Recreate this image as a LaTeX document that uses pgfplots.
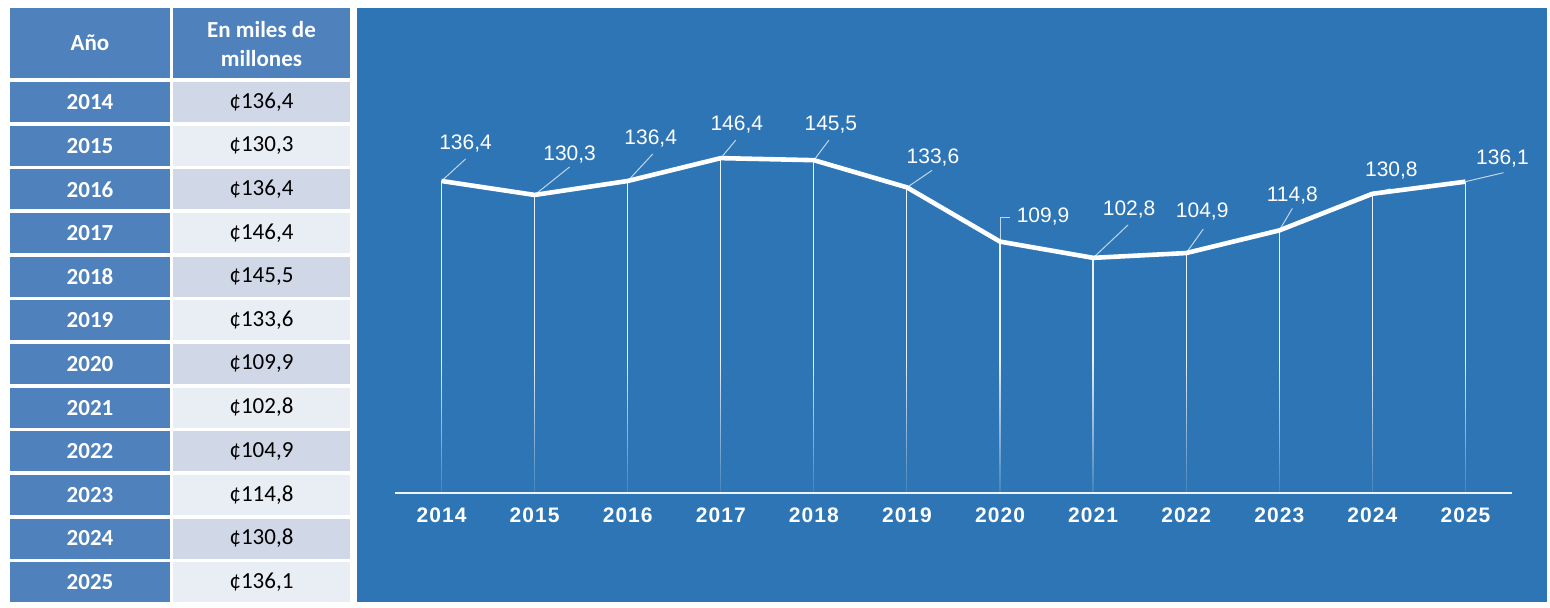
\documentclass[border=0pt]{standalone}
\usepackage{fontspec}
\setmainfont{Liberation Sans}
\newfontfamily\carlito{Carlito}
\newfontfamily\tickfont[LetterSpace=5]{Liberation Sans}
\usepackage{pgfplots}
\pgfplotsset{compat=1.18}
\usepackage{pgfplotstable}
\usetikzlibrary{fadings}
\definecolor{panelblue}{RGB}{46,117,182}
\definecolor{cellblue}{RGB}{79,129,189}
\definecolor{celldark}{RGB}{208,216,232}
\definecolor{celllight}{RGB}{233,237,244}

\pgfdeclareverticalshading{dropshade}{100bp}{color(0bp)=(pgftransparent!90); color(25bp)=(pgftransparent!90); color(45bp)=(pgftransparent!0); color(100bp)=(pgftransparent!0)}
\pgfdeclarefading{dropfade}{\pgfuseshading{dropshade}}

\pgfplotstableread{
x y lab lx ly
0 136.4 136,4 24 37
1 130.3 130,3 35 40
2 136.4 136,4 23 42
3 146.4 146,4 16 34
4 145.5 145,5 17 36
5 133.6 133,6 26 30
6 109.9 109,9 43 25
7 102.8 102,8 36 48
8 104.9 104,9 16 42
9 114.8 114,8 13 35
10 130.8 130,8 19 23
11 136.1 136,1 37 23
}\maindata

\pgfplotstableread{
x y u v
0 136.4 0.258 9.62
1 130.3 0.376 12.24
2 136.4 0.269 11.80
3 146.4 0.161 7.87
4 145.5 0.161 8.74
5 133.6 0.269 7.43
6 109.9 0 10.49
6 120.39 0.107 0
7 102.8 0.376 14.42
8 104.9 0.183 10.49
9 114.8 0.140 9.62
10 130.8 0.193 2.19
11 136.1 0.408 3.93
}\leaderdata

\begin{document}
\begin{tikzpicture}
\begin{scope}[x=0.5pt,y=-0.5pt]
\fill[white] (0,0) rectangle (1550,607);
\fill[panelblue] (357,8) rectangle (1547,602);
\fill[cellblue] (10,8) rectangle (170,78);
\fill[cellblue] (173,8) rectangle (350,78);
\node[text=white,font=\carlito\bfseries\fontsize{11.5}{14.5}\selectfont] at (90,43) {Año};
\node[text=white,font=\carlito\bfseries\fontsize{11.5}{14.5}\selectfont,align=center] at (261.5,44) {En miles de\\millones};
\foreach \yr/\val [count=\i from 0] in {2014/{136,4},2015/{130,3},2016/{136,4},2017/{146,4},2018/{145,5},2019/{133,6},2020/{109,9},2021/{102,8},2022/{104,9},2023/{114,8},2024/{130,8},2025/{136,1}}{
  \pgfmathsetmacro\rtop{82+43.65*\i}
  \pgfmathsetmacro\rbot{\rtop+40}
  \pgfmathsetmacro\rmid{\rtop+20}
  \ifodd\i \def\cc{celllight}\else\def\cc{celldark}\fi
  \fill[cellblue] (10,\rtop) rectangle (170,\rbot);
  \fill[\cc] (173,\rtop) rectangle (350,\rbot);
  \node[text=white,font=\carlito\bfseries\fontsize{11.5}{14}\selectfont] at (90,\rmid) {\yr};
  \node[text=black,font=\carlito\fontsize{11.5}{14}\selectfont] at (261.5,\rmid) {¢\val};
}
\end{scope}
\begin{axis}[
  at={(197.5pt,-246.5pt)}, anchor=south west,
  scale only axis, width=558.5pt, height=196.5pt,
  xmin=-0.5, xmax=11.5, ymin=0, ymax=171.8,
  axis x line=bottom, axis y line=none,
  x axis line style={-, draw=white!92!panelblue, line width=1pt},
  xtick={0,...,11},
  xticklabels={2014,2015,2016,2017,2018,2019,2020,2021,2022,2023,2024,2025},
  major tick length=0pt, xtick style={draw=none},
  xticklabel style={text=white, font=\tickfont\bfseries\fontsize{10.5}{12}\selectfont, yshift=-4pt},
  ytick=\empty,
  clip=false,
]
\addplot[ycomb, draw=white, line width=0.6pt, opacity=0.9, path fading=dropfade, forget plot] table[x=x,y=y]{\maindata};
\addplot[quiver={u=\thisrow{u},v=\thisrow{v},every arrow/.append style={-}}, draw=white!70!panelblue, line width=0.5pt, forget plot] table[x=x,y=y]{\leaderdata};
\addplot[white, line width=2.3pt, line join=round, mark=none,
  nodes near coords, point meta=explicit symbolic,
  visualization depends on={\thisrow{lx} \as \labx},
  visualization depends on={\thisrow{ly} \as \laby},
  every node near coord/.append style={anchor=center, text=white, font=\fontsize{10.5}{12}\selectfont, xshift=\labx*0.5pt, yshift=\laby*0.5pt}]
  table[x=x,y=y,meta=lab]{\maindata};
\end{axis}
\end{tikzpicture}
\end{document}
